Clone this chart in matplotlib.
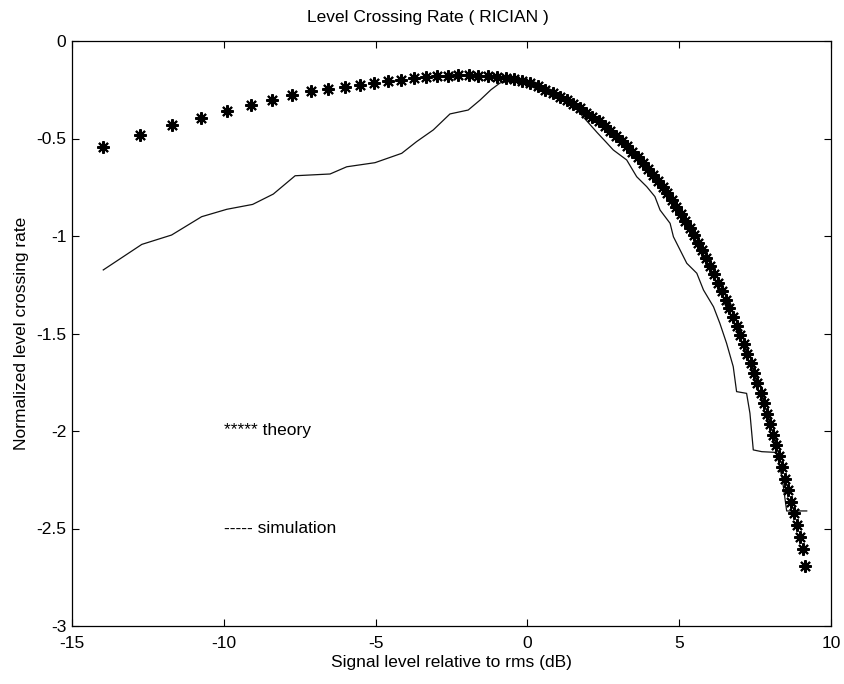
import matplotlib
matplotlib.use("Agg")
import matplotlib.pyplot as plt

# ---- data ----
theory_db = [-13.98, -12.77, -11.70, -10.75, -9.90, -9.12, -8.40, -7.74, -7.13, -6.56,
             -6.02, -5.51, -5.04, -4.58, -4.15, -3.74, -3.35, -2.97, -2.62, -2.27,
             -1.94, -1.62, -1.31, -1.01, -0.72, -0.45, -0.18, 0.09, 0.34, 0.59,
             0.83, 1.06, 1.29, 1.51, 1.73, 1.94, 2.14, 2.35, 2.54, 2.73,
             2.92, 3.11, 3.29, 3.46, 3.64, 3.81, 3.97, 4.14, 4.30, 4.45,
             4.61, 4.76, 4.91, 5.06, 5.20, 5.34, 5.48, 5.62, 5.76, 5.89,
             6.02, 6.15, 6.28, 6.40, 6.53, 6.65, 6.77, 6.89, 7.00, 7.12,
             7.23, 7.35, 7.46, 7.57, 7.68, 7.78, 7.89, 7.99, 8.10, 8.20,
             8.30, 8.40, 8.50, 8.60, 8.69, 8.79, 8.88, 8.97, 9.07, 9.16]
theory_lcr = [-0.544, -0.482, -0.431, -0.395, -0.359, -0.328, -0.303, -0.277, -0.256, -0.246,
              -0.236, -0.226, -0.216, -0.207, -0.199, -0.192, -0.186, -0.181, -0.178, -0.176,
              -0.176, -0.177, -0.180, -0.185, -0.190, -0.196, -0.203, -0.215, -0.232, -0.249,
              -0.266, -0.285, -0.304, -0.324, -0.345, -0.367, -0.389, -0.412, -0.436, -0.461,
              -0.486, -0.512, -0.539, -0.567, -0.595, -0.625, -0.655, -0.685, -0.717, -0.749,
              -0.782, -0.816, -0.851, -0.886, -0.922, -0.959, -0.997, -1.035, -1.074, -1.114,
              -1.155, -1.197, -1.239, -1.282, -1.326, -1.370, -1.415, -1.461, -1.508, -1.556,
              -1.604, -1.653, -1.703, -1.754, -1.805, -1.858, -1.911, -1.964, -2.019, -2.074,
              -2.130, -2.187, -2.244, -2.303, -2.362, -2.422, -2.482, -2.544, -2.606, -2.690]

sim_db = [-13.97, -12.70, -11.72, -10.73, -9.90, -9.05, -8.37, -7.65, -6.50, -5.95,
          -5.02, -4.14, -3.65, -3.10, -2.55, -1.95, -1.56, -1.20, -0.90, -0.50,
          0.00, 0.50, 1.00, 1.50, 1.90, 2.30, 2.60, 2.83, 3.27, 3.60,
          3.93, 4.20, 4.37, 4.70, 4.81, 5.03, 5.25, 5.58, 5.80, 6.13,
          6.34, 6.56, 6.78, 6.89, 7.22, 7.33, 7.44, 7.72, 8.21, 8.40,
          8.54, 9.20]
sim_lcr = [-1.174, -1.043, -0.995, -0.901, -0.863, -0.838, -0.785, -0.691, -0.682, -0.645,
           -0.624, -0.576, -0.516, -0.456, -0.374, -0.354, -0.303, -0.250, -0.215, -0.205,
           -0.210, -0.235, -0.270, -0.330, -0.400, -0.470, -0.520, -0.559, -0.610, -0.696,
           -0.747, -0.798, -0.867, -0.935, -1.004, -1.072, -1.140, -1.191, -1.277, -1.363,
           -1.448, -1.550, -1.670, -1.798, -1.807, -1.909, -2.097, -2.106, -2.110, -2.250,
           -2.410, -2.410]

xticks = [-15, -10, -5, 0, 5, 10]
yticks = [0, -0.5, -1, -1.5, -2, -2.5, -3]
ytick_labels = ["0", "-0.5", "-1", "-1.5", "-2", "-2.5", "-3"]

title = "Level Crossing Rate ( RICIAN )"
xlabel = "Signal level relative to rms (dB)"
ylabel = "Normalized level crossing rate"

plt.rcParams['font.family'] = ['Liberation Sans', 'DejaVu Sans']
FS = 12.5

fig = plt.figure(figsize=(8.45, 6.84), dpi=100)
ax = fig.add_axes([72/845, 1-626/684, (831-72)/845, (626-41)/684])

ax.plot(sim_db, sim_lcr, color='#111111', linewidth=0.9)
ax.plot(theory_db, theory_lcr, linestyle='none', marker=(8, 2, 0), markersize=9,
        markeredgewidth=1.5, color='black')

ax.text(-10, -2.0, "***** theory", fontsize=FS, va='center', ha='left')
ax.text(-10, -2.5, "----- simulation", fontsize=FS, va='center', ha='left')

ax.set_xlim(-15, 10)
ax.set_ylim(-3, 0)
ax.set_xticks(xticks)
ax.set_xticklabels([str(t) for t in xticks])
ax.set_yticks(yticks)
ax.set_yticklabels(ytick_labels)
ax.tick_params(direction='in', length=5, width=0.8, labelsize=FS, top=True, right=True)
ax.tick_params(axis='x', pad=7)
ax.tick_params(axis='y', pad=4)
for s in ax.spines.values():
    s.set_linewidth(0.9)

ax.set_title(title, fontsize=FS, pad=14, x=(428-72)/759)
ax.set_xlabel(xlabel, fontsize=FS, labelpad=3)
ax.set_ylabel(ylabel, fontsize=FS, labelpad=5)

fig.savefig("out.png", dpi=100, facecolor='white')
